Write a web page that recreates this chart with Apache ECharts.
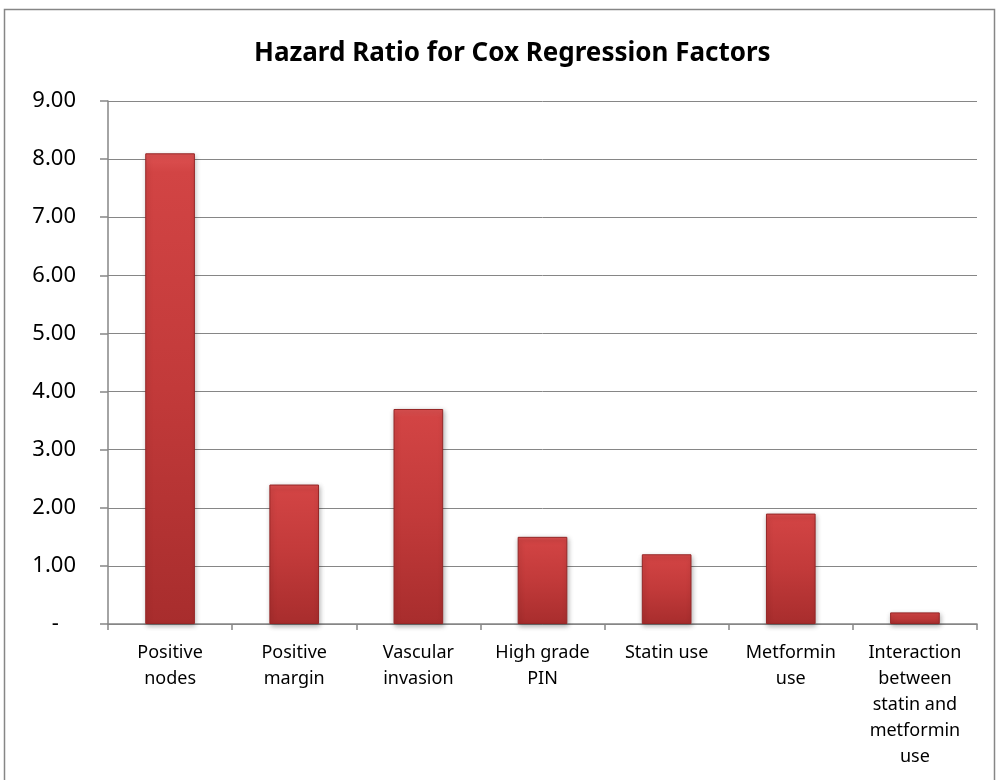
<!DOCTYPE html>
<html>
<head>
<meta charset="utf-8">
<script src="https://cdn.jsdelivr.net/npm/echarts@6/dist/echarts.min.js"></script>
<style>
  html, body { margin: 0; padding: 0; background: #fff; }
  #chart { width: 997px; height: 780px; }
</style>
</head>
<body>
<div id="chart"></div>
<script>
  // data
  var categories = [
    'Positive\nnodes',
    'Positive\nmargin',
    'Vascular\ninvasion',
    'High grade\nPIN',
    'Statin use',
    'Metformin\nuse',
    'Interaction\nbetween\nstatin and\nmetformin\nuse'
  ]
  var hazardRatios = [8.1, 2.4, 3.7, 1.5, 1.2, 1.9, 0.2]
  var yTicks = [0, 1, 2, 3, 4, 5, 6, 7, 8, 9]

  var font = 'Noto Sans'

  // lighter at the top, darker towards the base, like the bevelled excel bars
  var barColor = new echarts.graphic.LinearGradient(0, 0, 0, 1, [
    { offset: 0, color: '#de5252' },
    { offset: 0.04, color: '#d24444' },
    { offset: 0.5, color: '#c23a3a' },
    { offset: 1, color: '#a82d2d' }
  ])

  var option = {
    animation: false,
    backgroundColor: '#fff',
    title: {
      text: 'Hazard Ratio for Cox Regression Factors',
      left: 249,
      top: 36,
      textStyle: {
        fontFamily: font,
        fontSize: 26,
        fontWeight: 'bold',
        color: '#000'
      }
    },
    graphic: [{
      type: 'rect',
      shape: { x: 4.5, y: 9.5, width: 990, height: 800 },
      style: { fill: 'none', stroke: '#868686', lineWidth: 1.5 },
      silent: true
    }],
    grid: {
      left: 108,
      right: 20,
      top: 101,
      bottom: 156
    },
    xAxis: {
      type: 'category',
      data: categories,
      axisLine: { lineStyle: { color: '#868686', width: 1.5 } },
      axisTick: { show: true, length: 6, lineStyle: { color: '#868686', width: 1.5 } },
      axisLabel: {
        interval: 0,
        margin: 16,
        fontFamily: font,
        fontSize: 18,
        lineHeight: 26,
        color: '#000'
      }
    },
    yAxis: {
      type: 'value',
      min: 0,
      max: 9,
      interval: 1,
      axisLine: { show: true, lineStyle: { color: '#868686', width: 1.5 } },
      axisTick: { show: true, length: 8, lineStyle: { color: '#868686', width: 1.5 } },
      splitLine: { show: true, lineStyle: { color: '#868686', width: 1 } },
      axisLabel: {
        margin: 32,
        fontFamily: font,
        fontSize: 22,
        color: '#000',
        formatter: function (v) {
          if (yTicks.indexOf(v) < 0) return ''
          return v === 0 ? '-   ' : v.toFixed(2)
        }
      }
    },
    series: [{
      type: 'bar',
      data: hazardRatios,
      barWidth: '40%',
      itemStyle: {
        color: barColor,
        borderColor: '#952626',
        borderWidth: 1,
        shadowColor: 'rgba(0,0,0,0.3)',
        shadowBlur: 5,
        shadowOffsetX: 1,
        shadowOffsetY: 2
      }
    }]
  }

  var myChart = echarts.init(document.getElementById('chart'))
  myChart.setOption(option)
</script>
</body>
</html>
